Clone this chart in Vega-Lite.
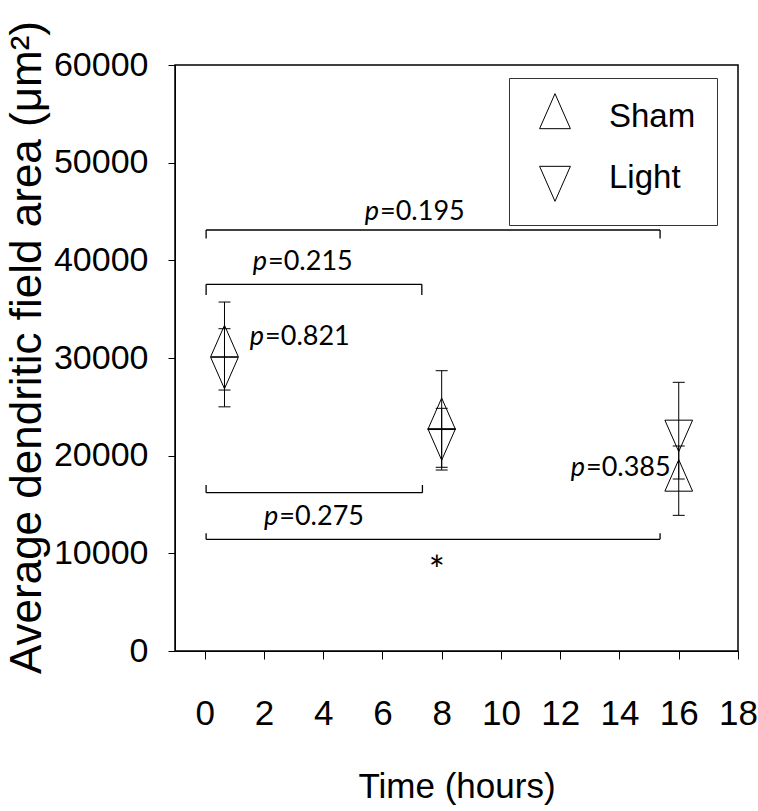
{
  "$schema": "https://vega.github.io/schema/vega-lite/v6.json",
  "width": 563,
  "height": 586,
  "autosize": {"type": "none"},
  "padding": {"left": 175, "top": 65, "right": 20, "bottom": 160},
  "background": "white",
  "datasets": {
    "points": [
      {"time": 0.67, "group": "Sham", "mean": 31200, "lo": 26720, "hi": 35730},
      {"time": 0.67, "group": "Light", "mean": 29000, "lo": 25000, "hi": 33000},
      {"time": 8, "group": "Sham", "mean": 23750, "lo": 18810, "hi": 28700},
      {"time": 8, "group": "Light", "mean": 21690, "lo": 18530, "hi": 24850},
      {"time": 16, "group": "Sham", "mean": 17440, "lo": 13890, "hi": 20990},
      {"time": 16, "group": "Light", "mean": 22560, "lo": 17610, "hi": 27510}
    ],
    "brackets": [
      {"x1": 0.05, "x2": 15.37, "y": 43107, "yend": 42237},
      {"x1": 0.05, "x2": 7.33, "y": 37546, "yend": 36451},
      {"x1": 0.05, "x2": 7.35, "y": 16208, "yend": 16997},
      {"x1": 0.05, "x2": 15.37, "y": 11437, "yend": 12051}
    ],
    "pvals": [
      {"x": 5.92, "y": 44980, "pre": "p", "val": "=0.195"},
      {"x": 2.14, "y": 39860, "pre": "p", "val": "=0.215"},
      {"x": 2.04, "y": 32150, "pre": "p", "val": "=0.821"},
      {"x": 2.52, "y": 13750, "pre": "p", "val": "=0.275"},
      {"x": 12.87, "y": 18707, "pre": "p", "val": "=0.385"}
    ],
    "stars": [
      {"x": 7.77, "y": 9140, "label": "*"}
    ]
  },
  "layer": [
    {
      "data": {"name": "points"},
      "mark": {"type": "rule", "color": "black", "strokeWidth": 1},
      "encoding": {
        "x": {"field": "time", "type": "quantitative"},
        "y": {"field": "lo", "type": "quantitative"},
        "y2": {"field": "hi"}
      }
    },
    {
      "data": {"name": "points"},
      "mark": {"type": "tick", "orient": "horizontal", "color": "black", "size": 12, "thickness": 1, "opacity": 1},
      "encoding": {
        "x": {"field": "time", "type": "quantitative"},
        "y": {"field": "lo", "type": "quantitative"}
      }
    },
    {
      "data": {"name": "points"},
      "mark": {"type": "tick", "orient": "horizontal", "color": "black", "size": 12, "thickness": 1, "opacity": 1},
      "encoding": {
        "x": {"field": "time", "type": "quantitative"},
        "y": {"field": "hi", "type": "quantitative"}
      }
    },
    {
      "data": {"name": "points"},
      "mark": {"type": "point", "filled": false, "stroke": "black", "strokeWidth": 1, "opacity": 1, "size": 992},
      "encoding": {
        "x": {"field": "time", "type": "quantitative"},
        "y": {"field": "mean", "type": "quantitative"},
        "shape": {
          "field": "group",
          "type": "nominal",
          "scale": {
            "domain": ["Sham", "Light"],
            "range": ["M0,-1.333L0.88,0.667L-0.88,0.667Z", "M0,1.333L0.88,-0.667L-0.88,-0.667Z"]
          },
          "legend": {
            "title": null,
            "orient": "none",
            "legendX": 334,
            "legendY": 13,
            "padding": 21,
            "strokeColor": "#333",
            "fillColor": "white",
            "labelFont": "'Liberation Sans', Arial, sans-serif",
            "labelFontSize": 33,
            "labelColor": "black",
            "labelOffset": 36,
            "rowPadding": 26,
            "symbolSize": 1225,
            "symbolOffset": 7,
            "symbolStrokeWidth": 1,
            "symbolStrokeColor": "black",
            "symbolFillColor": "transparent"
          }
        }
      }
    },
    {
      "data": {"name": "brackets"},
      "mark": {"type": "rule", "color": "black", "strokeWidth": 1.3},
      "encoding": {
        "x": {"field": "x1", "type": "quantitative"},
        "x2": {"field": "x2"},
        "y": {"field": "y", "type": "quantitative"}
      }
    },
    {
      "data": {"name": "brackets"},
      "mark": {"type": "rule", "color": "black", "strokeWidth": 1.3},
      "encoding": {
        "x": {"field": "x1", "type": "quantitative"},
        "y": {"field": "y", "type": "quantitative"},
        "y2": {"field": "yend"}
      }
    },
    {
      "data": {"name": "brackets"},
      "mark": {"type": "rule", "color": "black", "strokeWidth": 1.3},
      "encoding": {
        "x": {"field": "x2", "type": "quantitative"},
        "y": {"field": "y", "type": "quantitative"},
        "y2": {"field": "yend"}
      }
    },
    {
      "data": {"name": "pvals"},
      "mark": {"type": "text", "align": "right", "baseline": "middle", "font": "Lato, 'Open Sans', sans-serif", "fontStyle": "italic", "fontSize": 27, "color": "black", "dx": -1},
      "encoding": {
        "x": {"field": "x", "type": "quantitative"},
        "y": {"field": "y", "type": "quantitative"},
        "text": {"field": "pre"}
      }
    },
    {
      "data": {"name": "pvals"},
      "mark": {"type": "text", "align": "left", "baseline": "middle", "font": "Lato, 'Open Sans', sans-serif", "fontSize": 27, "color": "black"},
      "encoding": {
        "x": {"field": "x", "type": "quantitative"},
        "y": {"field": "y", "type": "quantitative"},
        "text": {"field": "val"}
      }
    },
    {
      "data": {"name": "stars"},
      "mark": {"type": "text", "align": "center", "baseline": "middle", "font": "Lato, 'Open Sans', sans-serif", "fontSize": 38, "color": "black", "dy": 11, "dx": 2},
      "encoding": {
        "x": {"field": "x", "type": "quantitative"},
        "y": {"field": "y", "type": "quantitative"},
        "text": {"field": "label"}
      }
    }
  ],
  "encoding": {
    "x": {
      "type": "quantitative",
      "scale": {"domain": [-1, 18], "nice": false, "zero": false},
      "axis": {
        "title": "Time (hours)",
        "values": [0, 2, 4, 6, 8, 10, 12, 14, 16, 18],
        "format": "d",
        "grid": false,
        "tickSize": 8,
        "tickColor": "black",
        "domainColor": "black",
        "labelFont": "'Liberation Sans', Arial, sans-serif",
        "labelFontSize": 35,
        "labelColor": "black",
        "labelPadding": 37,
        "labelFlush": false,
        "titleFont": "'Liberation Sans', Arial, sans-serif",
        "titleFontSize": 35,
        "titleFontWeight": "normal",
        "titleColor": "black",
        "titleBaseline": "alphabetic",
        "titleY": 146
      }
    },
    "y": {
      "type": "quantitative",
      "scale": {"domain": [0, 60000], "nice": false},
      "axis": {
        "title": "Average dendritic field area (μm²)",
        "values": [0, 10000, 20000, 30000, 40000, 50000, 60000],
        "format": "d",
        "grid": false,
        "tickSize": 7,
        "tickColor": "black",
        "domainColor": "black",
        "labelFont": "'Liberation Sans', Arial, sans-serif",
        "labelFontSize": 34,
        "labelColor": "black",
        "labelPadding": 20,
        "labelFlush": false,
        "titleFont": "'Liberation Sans', Arial, sans-serif",
        "titleFontSize": 44,
        "titleFontWeight": "normal",
        "titleColor": "black",
        "titleX": -148,
        "titleY": 282,
        "titleAlign": "center",
        "titleBaseline": "middle"
      }
    }
  },
  "config": {
    "view": {"stroke": "black", "strokeWidth": 1.5}
  }
}
